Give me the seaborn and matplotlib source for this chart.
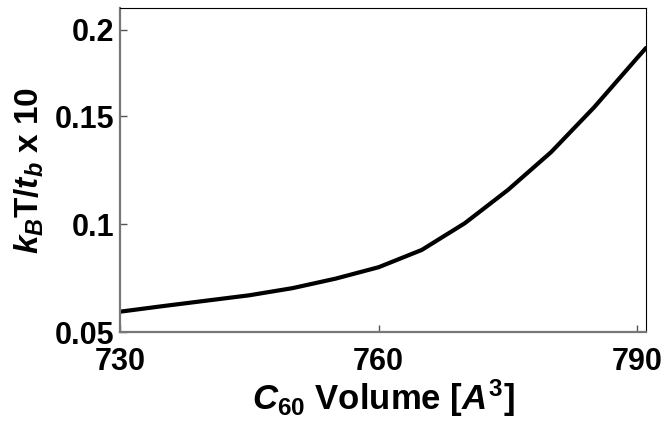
import numpy as np
import pandas as pd
import matplotlib
matplotlib.use('Agg')
import matplotlib.pyplot as plt
import seaborn as sns

# C60 volume vs kBT/tb
volume = [730, 735, 740, 745, 750, 755, 760, 765, 770, 775, 780, 785, 790, 791]
ratio = [0.0594, 0.0620, 0.0645, 0.0670, 0.0703, 0.0747, 0.0800,
         0.0880, 0.1004, 0.1158, 0.1333, 0.1541, 0.1770, 0.1815]

x_ticks = [730, 760, 790]
y_ticks = [0.05, 0.1, 0.15, 0.19]
y_tick_labels = ['0.05', '0.1', '0.15', '0.2']

df = pd.DataFrame({'volume': volume, 'ratio': ratio})

sns.set_style('white', {'xtick.bottom': True, 'ytick.left': True,
                        'text.color': 'black', 'axes.labelcolor': 'black',
                        'xtick.color': 'black', 'ytick.color': 'black'})
plt.rcParams['font.family'] = ['Liberation Sans', 'DejaVu Sans']
plt.rcParams['mathtext.fontset'] = 'custom'
plt.rcParams['mathtext.rm'] = 'Liberation Sans:bold'
plt.rcParams['mathtext.it'] = 'Liberation Sans:bold:italic'
plt.rcParams['mathtext.bf'] = 'Liberation Sans:bold'

fig = plt.figure(figsize=(6.65, 4.24), dpi=100)
ax = fig.add_axes([120/665, 1 - 332/424, 526/665, 324/424])

sns.lineplot(data=df, x='volume', y='ratio', color='black', lw=3, ax=ax)

ax.set_xlim(730, 791)
ax.set_ylim(0.05, 0.2)
ax.set_xticks(x_ticks)
ax.set_xticklabels([str(t) for t in x_ticks])
ax.set_yticks(y_ticks)
ax.set_yticklabels(y_tick_labels)

for lab in ax.get_xticklabels() + ax.get_yticklabels():
    lab.set_fontweight('bold')
    lab.set_fontsize(22)
    lab.set_color('black')

ax.tick_params(axis='both', direction='in', length=5, width=1, color='#555555')
ax.tick_params(axis='x', pad=11)
ax.tick_params(axis='y', pad=4)

ax.spines['left'].set_color('#777777')
ax.spines['bottom'].set_color('#777777')
ax.spines['left'].set_linewidth(1.6)
ax.spines['bottom'].set_linewidth(1.6)
ax.spines['top'].set_color('black')
ax.spines['right'].set_color('black')
ax.spines['top'].set_linewidth(0.8)
ax.spines['right'].set_linewidth(0.8)

ax.set_xlabel(r'$\mathit{C}_{60}$ Volume [$\mathit{A}^{3}$]', fontsize=25,
              fontweight='bold', labelpad=0, color='black')
ax.set_ylabel(r'$k_B$T/$t_b$ x 10', fontsize=24, fontweight='bold',
              labelpad=6, color='black')

plt.savefig('out.png', dpi=100)
